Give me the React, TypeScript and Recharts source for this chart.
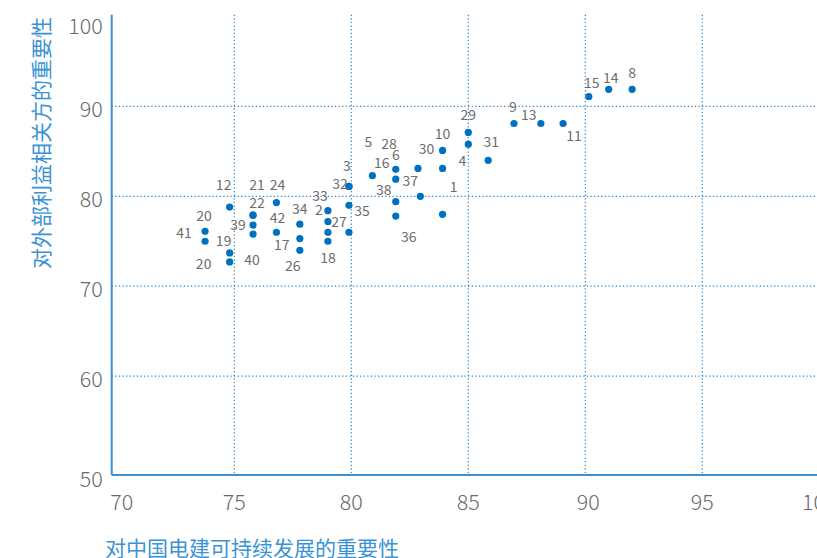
import { ScatterChart, Scatter, XAxis, YAxis, CartesianGrid } from 'recharts'

const FONT = "'Noto Sans CJK SC', 'Noto Sans', sans-serif"
const BLUE_DOT = '#0070c0'
const AXIS_BLUE = '#3d8fd1'
const GRID_BLUE = '#1f82d3'
const TITLE_BLUE = '#3a93d4'

const X_TITLE = '对中国电建可持续发展的重要性'
const Y_TITLE = '对外部利益相关方的重要性'

const X_TICKS = [70, 75, 80, 85, 90, 95, 100]
const Y_TICKS = [50, 60, 70, 80, 90, 100]
const X_GRID = [75, 80, 85, 90, 95]
const Y_GRID = [60, 70, 80, 90]
const X_DOMAIN = [69.76, 100]
const Y_DOMAIN = [49.0, 100.2]

// 议题编号（空字符串的点在原图中没有标注）
const ISSUE_IDS = [
  '12', '20', '41', '19', '20', '22', '21', '39', '40', '24', '42', '34', '17', '26',
  '33', '2', '', '18', '3', '32', '35', '27',
  '5', '6', '16', '38', '36', '28', '37', '10', '30', '1', '29', '4', '31', '9', '13', '11', '15', '14', '8',
]
const COMPANY_SCORES = [
  74.8, 73.75, 73.75, 74.8, 74.8, 75.8, 75.8, 75.8, 75.8, 76.8, 76.8, 77.8, 77.8, 77.8,
  79.0, 79.0, 79.0, 79.0, 79.9, 79.9, 79.9, 79.9,
  80.9, 81.9, 81.9, 81.9, 81.9, 82.85, 82.95, 83.9, 83.9, 83.9, 85.0, 85.0, 85.85, 86.95, 88.1, 89.05, 90.15, 91.0, 92.0,
]
const STAKEHOLDER_SCORES = [
  78.8, 76.1, 75.0, 73.7, 72.7, 77.9, 77.9, 76.8, 75.8, 79.3, 76.0, 76.9, 75.3, 74.0,
  78.4, 77.2, 76.0, 75.0, 81.1, 81.1, 79.0, 76.0,
  82.3, 83.0, 81.9, 79.4, 77.8, 83.1, 80.0, 85.1, 83.1, 78.0, 87.1, 85.8, 84.0, 88.1, 88.1, 88.1, 91.1, 91.9, 91.9,
]

// 标签相对于点的偏移（像素）
const LABEL_OFFSETS: [number, number][] = [
  [-6, -23], [-1, -16], [-21, -9], [-6, -13], [-26, 1], [4, -13], [4, -31], [-15, -1], [-1, 25], [1, -19], [1, -15], [0, -16], [-18, 5], [-7, 15],
  [-8, -16], [-9, -12], [0, 0], [0, 16], [-2, -21], [-9, -3], [13, 5], [-10, -11],
  [-4, -35], [0, -15], [-14, -17], [-12, -13], [13, 20], [-29, -25], [-10, -16], [0, -17], [-16, -20], [11, -28], [0, -18], [-6, 16], [3, -19], [-1, -17], [-12, -9], [11, 12], [3, -15], [2, -12], [0, -17],
]

const points = ISSUE_IDS.map((id, i) => ({
  id,
  x: COMPANY_SCORES[i],
  y: STAKEHOLDER_SCORES[i],
  offset: LABEL_OFFSETS[i],
}))

function Dot(props: any) {
  const { cx, cy, payload } = props
  const [dx, dy] = payload.offset
  return (
    <g>
      <circle cx={cx} cy={cy} r={3.6} fill={BLUE_DOT} />
      {payload.id && (
        <text x={cx + dx} y={cy + dy} textAnchor="middle" dominantBaseline="central" fontSize={14} fill="#6d6d6d" fontFamily={FONT}>
          {payload.id}
        </text>
      )}
    </g>
  )
}

function XTick(props: any) {
  const { x, y, payload } = props
  const shift = payload.value === 70 ? 4.4 : payload.value === 90 ? 3 : 0
  return (
    <text x={x + shift} y={y + 25} textAnchor="middle" dominantBaseline="central" fontSize={21.5} fill="#6a6a6a" fontWeight={300} fontFamily={FONT}>
      {payload.value}
    </text>
  )
}

function YTick(props: any) {
  const { x, y, payload } = props
  const shift = payload.value === 100 ? 8 : payload.value === 50 ? 11 : 1
  return (
    <text x={x - 9} y={y + shift} textAnchor="end" dominantBaseline="central" fontSize={21.5} fill="#6a6a6a" fontWeight={300} fontFamily={FONT}>
      {payload.value}
    </text>
  )
}

export default function App() {
  return (
    <div style={{ position: 'fixed', left: 0, top: 0, width: 817, height: 558, overflow: 'hidden', background: '#fff', fontFamily: FONT }}>
      <ScatterChart width={880} height={558} margin={{ top: 14.7, right: 60.7, bottom: 53, left: 51.7 }}>
        <CartesianGrid
          horizontalValues={Y_GRID}
          verticalValues={X_GRID}
          stroke={GRID_BLUE}
          strokeDasharray="1.2 2.4"
          strokeWidth={1.2}
        />
        <XAxis
          type="number"
          dataKey="x"
          domain={X_DOMAIN}
          ticks={X_TICKS}
          allowDataOverflow
          height={30}
          tickSize={0}
          tickMargin={0}
          tickLine={false}
          axisLine={{ stroke: AXIS_BLUE, strokeWidth: 2 }}
          tick={<XTick />}
          interval={0}
        />
        <XAxis xAxisId="top" orientation="top" type="number" domain={X_DOMAIN} height={0} tick={false} tickLine={false} axisLine={{ stroke: AXIS_BLUE, strokeWidth: 2 }} />
        <YAxis
          type="number"
          dataKey="y"
          domain={Y_DOMAIN}
          ticks={Y_TICKS}
          allowDataOverflow
          width={60}
          tickSize={0}
          tickMargin={0}
          tickLine={false}
          axisLine={{ stroke: AXIS_BLUE, strokeWidth: 2 }}
          tick={<YTick />}
          interval={0}
        />
        <Scatter data={points} shape={<Dot />} isAnimationActive={false} />
      </ScatterChart>
      <div style={{ position: 'absolute', left: 40.5, top: 143, transform: 'translate(-50%, -50%) rotate(-90deg)', whiteSpace: 'nowrap', fontSize: 21, lineHeight: 1.2, color: TITLE_BLUE }}>
        {Y_TITLE}
      </div>
      <div style={{ position: 'absolute', left: 105, top: 548, transform: 'translateY(-50%)', whiteSpace: 'nowrap', fontSize: 21, lineHeight: 1.2, color: TITLE_BLUE }}>
        {X_TITLE}
      </div>
    </div>
  )
}
